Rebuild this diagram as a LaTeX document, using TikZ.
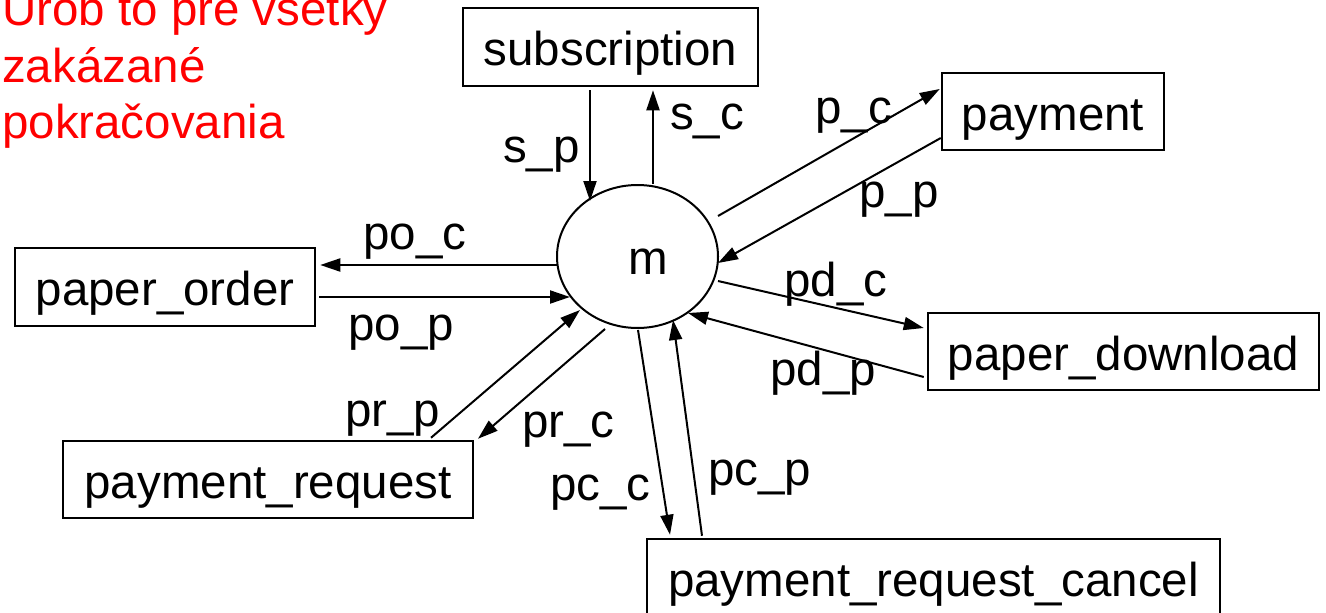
\documentclass[tikz,border=0pt]{standalone}
\usepackage{fontspec}
\setmainfont{Liberation Sans}
\usetikzlibrary{shapes.geometric,arrows.meta,calc}
\begin{document}
\begin{tikzpicture}[x=1pt,y=-1pt,
  every node/.style={font=\fontsize{47.5}{57}\selectfont},
  box/.style={draw,line width=2.5pt,inner sep=0pt,text height=37pt,text depth=0pt},
  lbl/.style={anchor=base west,inner sep=0pt},
  note/.style={anchor=base west,inner sep=0pt,text=red},
  arr/.style={line width=2pt,-{Triangle[length=20pt,width=13pt]}}]
\useasboundingbox (0,0) rectangle (1326,613);
\clip (0,0) rectangle (1326,613);

% red note
\node[note] (n1) at (2,25) {Urob to pre všetky};
\node[note] (n2) at (2,82) {zakázané};
\node[note] (n3) at (2,138) {pokračovania};

% central process
\node[ellipse,draw,line width=2pt,minimum width=161pt,minimum height=143pt,inner sep=0pt] (m) at (637.5,256.5) {};
\node[lbl] (mlbl) at (628,274) {m};

% boxes
\node[box,minimum width=295pt,minimum height=78pt] (sub) at (610.5,47) {subscription};
\node[box,minimum width=222pt,minimum height=77pt] (pay) at (1053,111.5) {payment};
\node[box,minimum width=300pt,minimum height=78pt] (po) at (165,287) {paper\_order};
\node[box,minimum width=391pt,minimum height=77pt] (pd) at (1123.5,351.5) {paper\_download};
\node[box,minimum width=410pt,minimum height=77pt] (pr) at (268,479.5) {payment\_request};
\node[box,minimum width=573pt,minimum height=77pt] (prc) at (933.5,577.5) {payment\_request\_cancel};

% connectors
\draw[arr] ([shift={(-20.5,3)}]sub.south) -- ([shift={(-47.5,-55.5)}]m.center);
\draw[arr] ([shift={(15.5,-72.5)}]m.center) -- ([shift={(42.5,3)}]sub.south);
\draw[arr] ([shift={(80.5,-40.5)}]m.center) -- ([shift={(-1,-22.5)}]pay.west);
\draw[arr] ([shift={(0,26.5)}]pay.west) -- ([shift={(80.5,6.5)}]m.center);
\draw[arr] ([shift={(80.5,24.5)}]m.center) -- ([shift={(-3,-23.5)}]pd.west);
\draw[arr] ([shift={(-3,25.5)}]pd.west) -- ([shift={(50.5,56.5)}]m.center);
\draw[arr] ([shift={(-80.5,8.5)}]m.center) -- ([shift={(4,-22)}]po.east);
\draw[arr] ([shift={(3,10)}]po.east) -- ([shift={(-67.5,40.5)}]m.center);
\draw[arr] ([shift={(163,-2)}]pr.north) -- ([shift={(-57.5,53.5)}]m.center);
\draw[arr] ([shift={(-32.5,72.5)}]m.center) -- ([shift={(210,-1)}]pr.north);
\draw[arr] ([shift={(0.5,73.5)}]m.center) -- ([shift={(-263.5,-3)}]prc.north);
\draw[arr] ([shift={(-231.5,-2)}]prc.north) -- ([shift={(35.5,63.5)}]m.center);

% connector labels
\node[lbl] (lsp) at (503,162) {s\_p};
\node[lbl] (lsc) at (670,129) {s\_c};
\node[lbl] (lpc) at (815,123) {p\_c};
\node[lbl] (lpp) at (859,207) {p\_p};
\node[lbl] (lpoc) at (363,249) {po\_c};
\node[lbl] (lpop) at (348,340) {po\_p};
\node[lbl] (lprp) at (345,426) {pr\_p};
\node[lbl] (lprc) at (522,437) {pr\_c};
\node[lbl] (lpcc) at (550,500) {pc\_c};
\node[lbl] (lpcp) at (708,485) {pc\_p};
\node[lbl] (lpdc) at (784,296) {pd\_c};
\node[lbl] (lpdp) at (770,385) {pd\_p};
\end{tikzpicture}
\end{document}
